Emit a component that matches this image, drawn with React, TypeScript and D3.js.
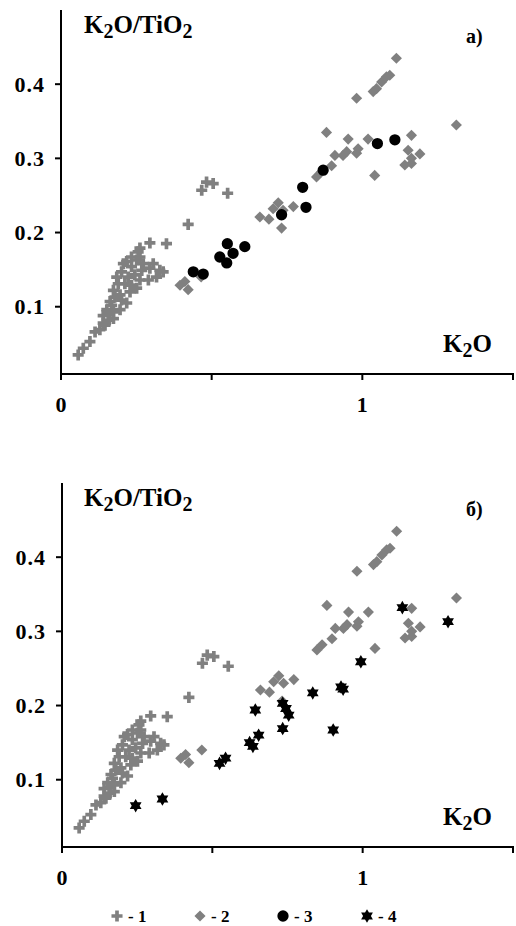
import React from 'react';
import * as d3 from 'd3';

// Series 1 (plus), K2O vs K2O/TiO2
const series1: [number, number][] = [
  [0.057, 0.035], [0.074, 0.044], [0.096, 0.053], [0.113, 0.066], [0.129, 0.069],
  [0.146, 0.075], [0.14, 0.078], [0.174, 0.084], [0.157, 0.089], [0.152, 0.096],
  [0.174, 0.093], [0.163, 0.107], [0.168, 0.102], [0.179, 0.113], [0.174, 0.122],
  [0.19, 0.131], [0.185, 0.14], [0.201, 0.147], [0.207, 0.158], [0.218, 0.161],
  [0.234, 0.154], [0.262, 0.167], [0.262, 0.179], [0.256, 0.174], [0.295, 0.186],
  [0.35, 0.185], [0.273, 0.158], [0.295, 0.152], [0.306, 0.158], [0.328, 0.149],
  [0.339, 0.147], [0.317, 0.14], [0.29, 0.136], [0.262, 0.136], [0.251, 0.125],
  [0.229, 0.12], [0.234, 0.129], [0.218, 0.105], [0.196, 0.096], [0.201, 0.109],
  [0.212, 0.131], [0.196, 0.116], [0.223, 0.14], [0.245, 0.143], [0.268, 0.149],
  [0.251, 0.163], [0.234, 0.167], [0.16, 0.082], [0.14, 0.088],
  [0.422, 0.211], [0.467, 0.257], [0.483, 0.268], [0.505, 0.266], [0.553, 0.253],
];

// Series 2 (diamond)
const series2: [number, number][] = [
  [0.395, 0.129], [0.422, 0.123], [0.411, 0.134], [0.465, 0.14],
  [0.66, 0.221], [0.69, 0.218], [0.704, 0.232], [0.721, 0.24], [0.737, 0.23],
  [0.771, 0.235], [0.732, 0.206],
  [0.848, 0.275], [0.865, 0.282], [0.898, 0.29], [0.909, 0.304], [0.936, 0.304],
  [0.948, 0.309], [0.953, 0.326], [0.986, 0.313], [0.981, 0.307], [1.019, 0.326],
  [0.881, 0.335], [1.041, 0.277],
  [0.981, 0.381], [1.036, 0.39], [1.047, 0.394], [1.064, 0.403], [1.08, 0.41],
  [1.091, 0.412], [1.113, 0.435],
  [1.312, 0.345], [1.163, 0.331], [1.152, 0.311], [1.191, 0.306], [1.163, 0.3],
  [1.141, 0.291], [1.163, 0.293],
];

// Series 3 (circle) – panel а
const series3: [number, number][] = [
  [0.439, 0.147], [0.472, 0.144], [0.527, 0.167], [0.55, 0.159], [0.552, 0.185],
  [0.571, 0.172], [0.61, 0.181], [0.732, 0.224], [0.802, 0.261], [0.813, 0.234],
  [0.87, 0.284], [1.05, 0.32], [1.108, 0.325],
];

// Series 4 (six-point star) – panel б
const series4: [number, number][] = [
  [0.245, 0.065], [0.334, 0.074], [0.524, 0.122], [0.544, 0.129], [0.624, 0.15],
  [0.635, 0.145], [0.654, 0.16], [0.643, 0.194], [0.734, 0.169], [0.734, 0.203],
  [0.745, 0.196], [0.754, 0.187], [0.834, 0.217], [0.902, 0.167], [0.928, 0.225],
  [0.935, 0.222], [0.994, 0.259], [1.132, 0.332], [1.284, 0.313],
];

const xTicks = [0, 0.5, 1, 1.5];
const xTickLabels = ['0', '', '1', ''];
const yTicks = [0.1, 0.2, 0.3, 0.4];
const panelLabels = ['а)', 'б)'];
const legendLabels = ['- 1', '- 2', '- 3', '- 4'];

const GRAY = '#808080';
const FONT = '"Liberation Serif", "Times New Roman", serif';

const plusPath = d3.symbol(d3.symbolCross, 68)()!;
const diamondPath = d3.symbol(d3.symbolSquare, 62)()!;
const circlePath = d3.symbol(d3.symbolCircle, 100)()!;
function star6(r: number) {
  const pts: string[] = [];
  for (let i = 0; i < 12; i++) {
    const a = -Math.PI / 2 + (i * Math.PI) / 6;
    const rr = i % 2 === 0 ? r : r / Math.sqrt(3);
    pts.push(`${(rr * Math.cos(a)).toFixed(2)},${(rr * Math.sin(a)).toFixed(2)}`);
  }
  return 'M' + pts.join('L') + 'Z';
}
const starPath = star6(6.8);

type Props = { dy: number; x0: number; label: string; extra: 'circle' | 'star' };

function Panel({ dy, x0, label, extra }: Props) {
  const x = d3.scaleLinear().domain([0, 1.5]).range([x0, 513]);
  const y = d3.scaleLinear().domain([0.0093, 0.5]).range([374 + dy, 10 + dy]);
  const yBase = y(0.0093);
  const yTop = y(0.5);
  return (
    <g>
      {series1.map((d, i) => (
        <path key={'p' + i} d={plusPath} fill={GRAY} transform={`translate(${x(d[0])},${y(d[1])})`} />
      ))}
      {series2.map((d, i) => (
        <path key={'d' + i} d={diamondPath} fill={GRAY} transform={`translate(${x(d[0])},${y(d[1])}) rotate(45)`} />
      ))}
      {extra === 'circle'
        ? series3.map((d, i) => (
            <path key={'c' + i} d={circlePath} fill="#000" transform={`translate(${x(d[0])},${y(d[1])})`} />
          ))
        : series4.map((d, i) => (
            <path key={'s' + i} d={starPath} fill="#000" transform={`translate(${x(d[0])},${y(d[1])})`} />
          ))}
      {/* axes */}
      <line x1={x0} x2={x0} y1={yTop} y2={yBase} stroke="#000" strokeWidth={2} />
      <line x1={x0 - 1} x2={514} y1={yBase} y2={yBase} stroke="#000" strokeWidth={2} />
      {yTicks.map((t) => (
        <g key={'yt' + t}>
          <line x1={x0 - 6} x2={x0} y1={y(t)} y2={y(t)} stroke="#000" strokeWidth={2} />
          <text x={x0 - 16} y={y(t)} dy="0.35em" textAnchor="end" fontFamily={FONT} fontWeight="bold" fontSize={22} letterSpacing={1}>
            {d3.format('.1f')(t)}
          </text>
        </g>
      ))}
      {xTicks.map((t, i) => (
        <g key={'xt' + t}>
          <line x1={x(t)} x2={x(t)} y1={yBase} y2={yBase + 6} stroke="#000" strokeWidth={2} />
          {xTickLabels[i] && (
            <text x={x(t)} y={yBase + 38} textAnchor="middle" fontFamily={FONT} fontWeight="bold" fontSize={22}>
              {xTickLabels[i]}
            </text>
          )}
        </g>
      ))}
      <text x={84} y={33 + dy} fontFamily={FONT} fontWeight="bold" fontSize={25}>
        K<tspan fontSize={20} dy={5}>2</tspan>
        <tspan dy={-5}>O/TiO</tspan>
        <tspan fontSize={20} dy={5}>2</tspan>
      </text>
      <text x={443} y={352 + dy} fontFamily={FONT} fontWeight="bold" fontSize={25}>
        K<tspan fontSize={20} dy={5}>2</tspan>
        <tspan dy={-5}>O</tspan>
      </text>
      <text x={466} y={43 + dy} fontFamily={FONT} fontWeight="bold" fontSize={20}>
        {label}
      </text>
    </g>
  );
}

export default function App() {
  const legendX = [112, 195, 278, 362];
  const legendIcons = [
    <path d={plusPath} fill={GRAY} />,
    <path d={diamondPath} fill={GRAY} transform="rotate(45)" />,
    <path d={circlePath} fill="#000" />,
    <path d={starPath} fill="#000" />,
  ];
  return (
    <svg width={516} height={926} style={{ position: 'absolute', left: 0, top: 0, background: '#fff' }}>
      <rect width={516} height={926} fill="#fff" />
      <Panel dy={0} x0={61} label={panelLabels[0]} extra="circle" />
      <Panel dy={473} x0={62} label={panelLabels[1]} extra="star" />
      {legendLabels.map((l, i) => (
        <g key={'lg' + i}>
          <g transform={`translate(${legendX[i] + 5},916)`}>{legendIcons[i]}</g>
          <text x={legendX[i] + 16} y={916} dy="0.35em" fontFamily={FONT} fontWeight="bold" fontSize={17}>
            {l}
          </text>
        </g>
      ))}
    </svg>
  );
}
